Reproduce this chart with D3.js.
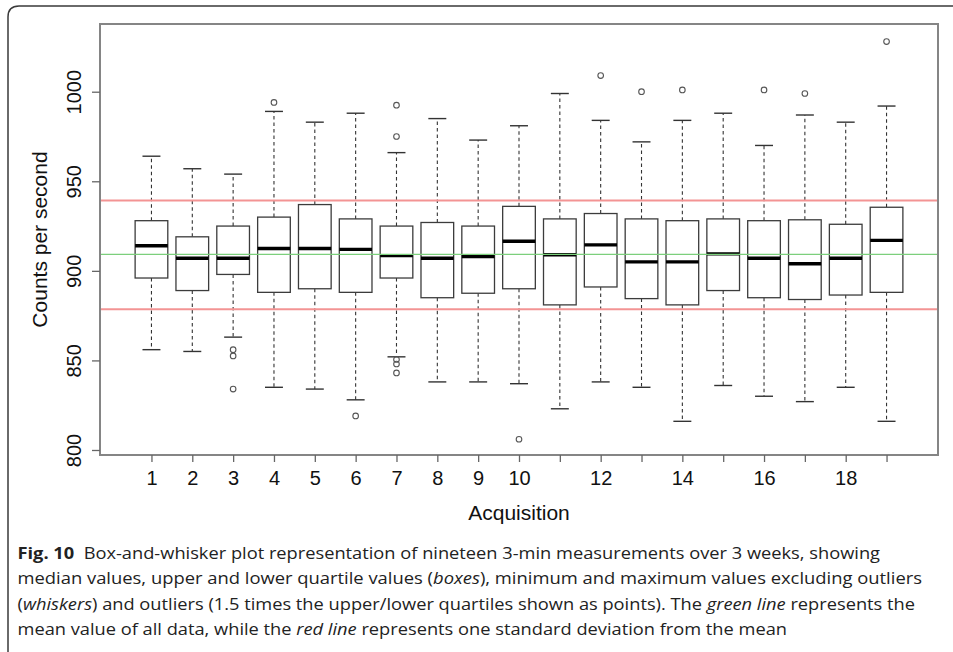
<!DOCTYPE html>
<html>
<head>
<meta charset="utf-8">
<script src="https://cdn.jsdelivr.net/npm/d3@7"></script>
<style>
  html, body { margin: 0; padding: 0; background: #fff; }
  svg { display: block; }
</style>
</head>
<body>
<svg id="chart" width="953" height="652"></svg>
<script>
// ---- Data ----
const acquisitions = [1,2,3,4,5,6,7,8,9,10,11,12,13,14,15,16,17,18,19];
const whiskerLow  = [856, 855, 863, 835, 834, 828, 852, 838, 838, 837, 823, 838, 835, 816, 836, 830, 827, 835, 816];
const quartile1   = [896, 889, 898, 888, 890, 888, 896, 885, 887.5, 890, 881, 891, 884.5, 881, 889, 885, 884, 886.5, 888];
const medians     = [914, 907, 907, 912.5, 912.5, 912, 908.5, 907, 908, 916.5, 909, 914.5, 905, 905, 909.5, 907, 904, 907, 917];
const quartile3   = [928, 919, 925, 930, 937, 929, 925, 927, 925, 936, 929, 932, 929, 928, 929, 928, 928.5, 926, 935.5];
const whiskerHigh = [964, 957, 954, 989, 983, 988, 966, 985, 973, 981, 999, 984, 972, 984, 988, 970, 987, 983, 992];
const outliers    = [[], [], [856, 852.5, 834], [994], [], [819], [992.5, 975, 850.5, 848, 843], [], [], [806],
                     [], [1009], [1000], [1001], [], [1001], [999], [], [1028]];
const meanValue = 909.2;
const sdLines = [939.3, 878.5];
const yTicks = [800, 850, 900, 950, 1000];
const yTickLabels = ["800", "850", "900", "950", "1000"];
const xTickLabels = ["1","2","3","4","5","6","7","8","9","10","","12","","14","","16","","18",""];
const yTitle = "Counts per second";
const xTitle = "Acquisition";

// ---- Layout ----
const svg = d3.select("#chart");
const plot = {left: 100, top: 24, right: 938, bottom: 455};

const x = d3.scaleLinear().domain([-0.26, 20.26]).range([plot.left, plot.right]);
const y = d3.scaleLinear().domain([797.2, 1037.8]).range([plot.bottom, plot.top]);
const unit = x(1) - x(0);
const boxHalf = 0.4 * unit;
const capHalf = 0.22 * unit;

// figure frame (rounded corner at top-left)
svg.append("path")
  .attr("d", "M8,660 L8,17 Q8,6 19,6 L960,6")
  .attr("fill", "none").attr("stroke", "#3a3a3a").attr("stroke-width", 1.5);

const g = svg.append("g");

const data = acquisitions.map((a, i) => ({
  a, lo: whiskerLow[i], q1: quartile1[i], med: medians[i], q3: quartile3[i], hi: whiskerHigh[i], out: outliers[i]
}));

const bx = g.selectAll("g.box").data(data).enter().append("g").attr("class", "box");

// whiskers (dashed)
bx.append("line")
  .attr("x1", d => x(d.a)).attr("x2", d => x(d.a))
  .attr("y1", d => y(d.q3)).attr("y2", d => y(d.hi))
  .attr("stroke", "#333").attr("stroke-width", 1.1).attr("stroke-dasharray", "3.5,3");
bx.append("line")
  .attr("x1", d => x(d.a)).attr("x2", d => x(d.a))
  .attr("y1", d => y(d.q1)).attr("y2", d => y(d.lo))
  .attr("stroke", "#333").attr("stroke-width", 1.1).attr("stroke-dasharray", "3.5,3");
// caps
bx.append("line")
  .attr("x1", d => x(d.a) - capHalf).attr("x2", d => x(d.a) + capHalf)
  .attr("y1", d => y(d.hi)).attr("y2", d => y(d.hi))
  .attr("stroke", "#333").attr("stroke-width", 1.4);
bx.append("line")
  .attr("x1", d => x(d.a) - capHalf).attr("x2", d => x(d.a) + capHalf)
  .attr("y1", d => y(d.lo)).attr("y2", d => y(d.lo))
  .attr("stroke", "#333").attr("stroke-width", 1.4);
// box
bx.append("rect")
  .attr("x", d => x(d.a) - boxHalf).attr("width", 2 * boxHalf)
  .attr("y", d => y(d.q3)).attr("height", d => y(d.q1) - y(d.q3))
  .attr("fill", "#fff").attr("stroke", "#3c3c3c").attr("stroke-width", 1.3);
// median
bx.append("line")
  .attr("x1", d => x(d.a) - boxHalf).attr("x2", d => x(d.a) + boxHalf)
  .attr("y1", d => y(d.med)).attr("y2", d => y(d.med))
  .attr("stroke", "#000").attr("stroke-width", 3.4);
// outliers
bx.selectAll("circle").data(d => d.out.map(v => ({a: d.a, v}))).enter().append("circle")
  .attr("cx", d => x(d.a)).attr("cy", d => y(d.v)).attr("r", 2.8)
  .attr("fill", "none").attr("stroke", "#555").attr("stroke-width", 1.1);

// reference lines
g.append("line")
  .attr("x1", plot.left).attr("x2", plot.right)
  .attr("y1", y(meanValue)).attr("y2", y(meanValue))
  .attr("stroke", "#7ccf7c").attr("stroke-width", 1.2);
g.selectAll("line.sd").data(sdLines).enter().append("line").attr("class", "sd")
  .attr("x1", plot.left).attr("x2", plot.right)
  .attr("y1", d => y(d)).attr("y2", d => y(d))
  .attr("stroke", "#f39494").attr("stroke-width", 2);

// plot frame
svg.append("rect")
  .attr("x", plot.left).attr("y", plot.top)
  .attr("width", plot.right - plot.left).attr("height", plot.bottom - plot.top)
  .attr("fill", "none").attr("stroke", "#858585").attr("stroke-width", 2);

// axes
const fontAx = "'Liberation Sans', Arial, sans-serif";
const yAxis = svg.append("g").attr("transform", `translate(${plot.left},0)`)
  .call(d3.axisLeft(y).tickValues(yTicks).tickSize(8).tickSizeOuter(0)
    .tickFormat((d, i) => yTickLabels[i]));
yAxis.select(".domain").remove();
yAxis.selectAll(".tick line").attr("stroke", "#666").attr("stroke-width", 1.3);
yAxis.selectAll(".tick text")
  .attr("x", null).attr("dy", null)
  .attr("text-anchor", "middle")
  .attr("transform", "translate(-19,0) rotate(-90)")
  .attr("font-family", fontAx).attr("font-size", 20).attr("fill", "#111");

const xAxis = svg.append("g").attr("transform", `translate(0,${plot.bottom})`)
  .call(d3.axisBottom(x).tickValues(acquisitions).tickSize(7).tickPadding(9).tickSizeOuter(0)
    .tickFormat((d, i) => xTickLabels[i]));
xAxis.select(".domain").remove();
xAxis.selectAll(".tick line").attr("stroke", "#666").attr("stroke-width", 1.3);
xAxis.selectAll(".tick text")
  .attr("font-family", fontAx).attr("font-size", 20).attr("fill", "#111");

// axis titles
svg.append("text")
  .attr("transform", `translate(47,${(plot.top + plot.bottom) / 2}) rotate(-90)`)
  .attr("text-anchor", "middle")
  .attr("font-family", fontAx).attr("font-size", 21).attr("fill", "#111")
  .text(yTitle);
svg.append("text")
  .attr("x", (plot.left + plot.right) / 2).attr("y", 520)
  .attr("text-anchor", "middle")
  .attr("font-family", fontAx).attr("font-size", 21).attr("fill", "#111")
  .text(xTitle);

// caption
const captionLines = [
  [{t: "Fig. 10", b: true}, {t: "  Box-and-whisker plot representation of nineteen 3-min measurements over 3 weeks, showing"}],
  [{t: "median values, upper and lower quartile values ("}, {t: "boxes", i: true}, {t: "), minimum and maximum values excluding outliers"}],
  [{t: "("}, {t: "whiskers", i: true}, {t: ") and outliers (1.5 times the upper/lower quartiles shown as points). The "}, {t: "green line", i: true}, {t: " represents the"}],
  [{t: "mean value of all data, while the "}, {t: "red line", i: true}, {t: " represents one standard deviation from the mean"}]
];
const captionEnds = [880, 922, 915, 787];
const capX = 17.5;
captionLines.forEach((parts, li) => {
  const t = svg.append("text")
    .attr("x", capX).attr("y", 559 + li * 25.3)
    .attr("font-family", "'Open Sans', 'Noto Sans', sans-serif")
    .attr("font-size", 16.5).attr("fill", "#222")
    .attr("xml:space", "preserve").style("white-space", "pre")
    .attr("textLength", captionEnds[li] - capX).attr("lengthAdjust", "spacingAndGlyphs");
  parts.forEach(p => {
    t.append("tspan").text(p.t)
      .attr("font-weight", p.b ? "bold" : null)
      .attr("font-style", p.i ? "italic" : null);
  });
});
</script>
</body>
</html>
